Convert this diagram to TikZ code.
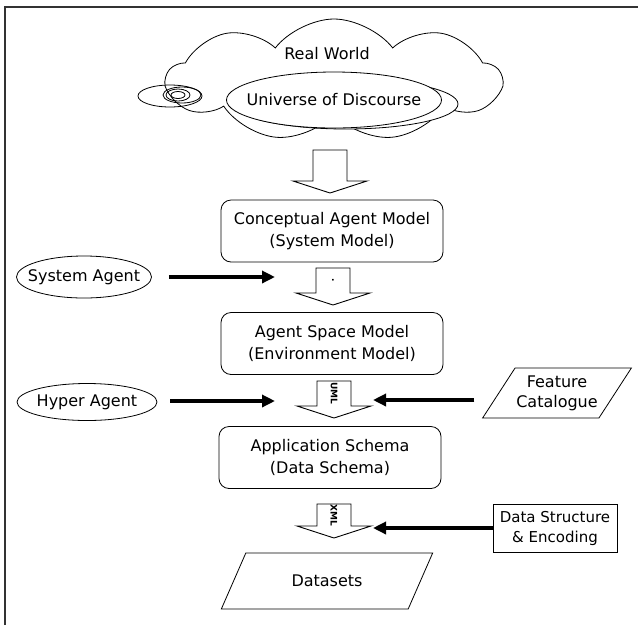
\documentclass[tikz,border=0pt]{standalone}
\usepackage{fontspec}
\setmainfont{DejaVu Sans}
\usetikzlibrary{shapes.symbols,shapes.geometric,arrows.meta,calc}
\newcommand{\blockarrow}[4]{% x center, top y, tip y, label
  \draw[hollow] (#1-17,#2) -- (#1-17,#3-12) -- (#1-37,#3-12) -- (#1,#3)
     -- (#1+37,#3-12) -- (#1+17,#3-12) -- (#1+17,#2) -- cycle;
  \node[blocklabel] at (#1,{(#2+#3-12)/2}) {#4};}
\begin{document}
\begin{tikzpicture}[x=1pt,y=-1pt,
  font=\fontsize{16}{22}\selectfont, line width=0.8pt,
  box/.style={draw, rounded corners=10pt, minimum width=222pt, minimum height=62pt,
    align=center, inner sep=0pt},
  agent/.style={draw, ellipse, inner xsep=-20pt, inner ysep=0pt},
  hollow/.style={draw, fill=white, line width=0.9pt, line join=miter},
  blocklabel/.style={rotate=-90, font=\bfseries\fontsize{9}{9}\selectfont, inner sep=0pt},
  thickarr/.style={line width=3.6pt, -{Triangle[length=13pt,width=12pt]}},
  para/.style={draw, trapezium, trapezium left angle=48, trapezium right angle=132,
    trapezium stretches=true, inner sep=0pt, align=center}
]
\useasboundingbox (0,0) rectangle (638,625);
\fill[white] (0,0) rectangle (638,625);
% frame
\draw[line width=1.3pt, black!80] (5,625) -- (5,7) -- (638,7);

% cloud
\node[cloud, draw, cloud puffs=9, cloud puff arc=105, aspect=2.6, inner sep=0pt,
  minimum width=334pt, minimum height=122pt] (rw) at (334,80) {};
\node (rwt) at (327,54) {Real World};
% shadow and universe ellipses
\draw[fill=white] (346,104) ellipse [x radius=112, y radius=25];
\node[draw, ellipse, fill=white, inner xsep=-40pt, inner ysep=0pt,
  minimum width=215pt, minimum height=56pt] (uod) at (334,100) {Universe of Discourse};
% small ellipses at left
\draw (170,96) ellipse [x radius=32, y radius=11];
\draw (182,95) ellipse [x radius=19, y radius=8];
\draw (178,95) ellipse [x radius=12, y radius=6];
\draw (178,95) ellipse [x radius=7, y radius=3.5];

% main boxes
\node[box] (cam) at (332,231) {Conceptual Agent Model\\(System Model)};
\node[box] (asm) at (332,343.5) {Agent Space Model\\(Environment Model)};
\node[box] (aps) at (330,457.5) {Application Schema\\(Data Schema)};
\node[para, minimum width=212pt, minimum height=56pt] (ds) at (327,581) {Datasets};

% block arrows
\blockarrow{330}{150}{193}{}
\blockarrow{333}{268}{305}{.}
\blockarrow{334}{381}{418}{UML}
\blockarrow{334}{504}{538}{XML}

% side inputs
\node[agent, minimum width=135pt, minimum height=42pt] (sa) at (84,277) {System Agent};
\node[agent, minimum width=140pt, minimum height=37pt] (ha) at (87,402) {Hyper Agent};
\node[para, minimum width=149pt, minimum height=50pt,
  font=\fontsize{16}{20}\selectfont] (fc) at (557,393) {Feature\\Catalogue};
\node[draw, minimum width=124pt, minimum height=48pt, inner sep=1pt, align=center,
  font=\fontsize{15}{20}\selectfont] (dse) at (555,528) {Data Structure\\\& Encoding};

\coordinate (lt) at (275,0);
\coordinate (rt) at (373,0);
\draw[thickarr] ([xshift=17pt]sa.east) -- (sa.east -| lt);
\draw[thickarr] ([xshift=13pt,yshift=1pt]ha.east) -- ([yshift=1pt]ha.east -| lt);
\draw[thickarr] ([xshift=-24pt,yshift=-7pt]fc.west) -- ([yshift=-7pt]fc.west -| rt);
\draw[thickarr] (dse.west) -- (dse.west -| rt);
\end{tikzpicture}
\end{document}
